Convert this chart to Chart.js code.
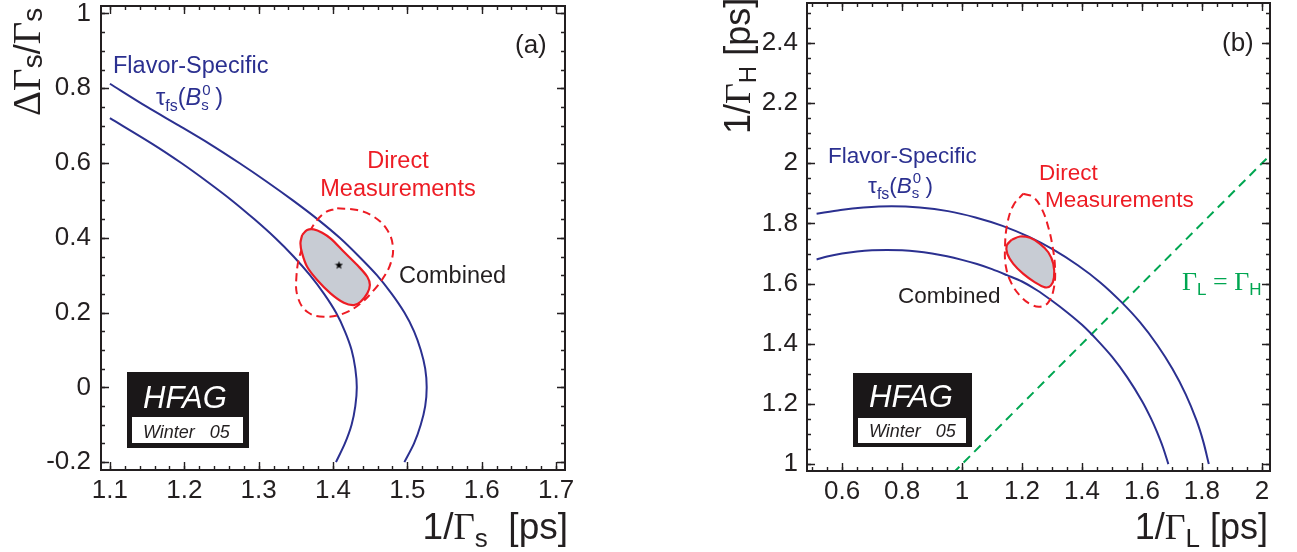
<!DOCTYPE html>
<html><head><meta charset="utf-8">
<script src="https://cdn.jsdelivr.net/npm/chart.js@4.4.1/dist/chart.umd.min.js"></script>
<style>
html,body{margin:0;padding:0;background:#fff;width:1297px;height:552px;overflow:hidden}
canvas{position:absolute;top:0}
#ca{left:0}
#cb{left:648px}
</style></head><body>
<canvas id="ca" width="648" height="552"></canvas>
<canvas id="cb" width="649" height="552"></canvas>
<script>
// ================= DATA =================
// Panel (a): DeltaGamma_s/Gamma_s vs 1/Gamma_s
const aXTicks = [1.1, 1.2, 1.3, 1.4, 1.5, 1.6, 1.7];
const aXTickLabels = ['1.1','1.2','1.3','1.4','1.5','1.6','1.7'];
const aYTicks = [-0.2, 0, 0.2, 0.4, 0.6, 0.8, 1];
const aYTickLabels = ['-0.2','0','0.2','0.4','0.6','0.8','1'];

const aOuterX = [1.100,1.150,1.193,1.235,1.274,1.311,1.346,1.379,1.409,1.435,1.459,1.479,1.496,1.509,1.518,1.524,1.526,1.524,1.518,1.509,1.496];
const aOuterY = [0.812,0.750,0.700,0.650,0.600,0.550,0.500,0.450,0.400,0.350,0.300,0.250,0.200,0.150,0.100,0.050,0.000,-0.050,-0.100,-0.150,-0.200];
const aInnerX = [1.100,1.158,1.196,1.231,1.264,1.294,1.322,1.347,1.369,1.388,1.404,1.416,1.425,1.430,1.432,1.430,1.425,1.416,1.404];
const aInnerY = [0.720,0.650,0.600,0.550,0.500,0.450,0.400,0.350,0.300,0.250,0.200,0.150,0.100,0.050,0.000,-0.050,-0.100,-0.150,-0.200];
const aCombX = [1.3585,1.3652,1.3741,1.3854,1.3966,1.4146,1.4326,1.4461,1.4496,1.4461,1.4371,1.4281,1.4146,1.3966,1.3787,1.3652,1.3585,1.3562,1.3585];
const aCombY = [0.4074,0.4207,0.4226,0.4137,0.3985,0.3627,0.3271,0.2958,0.2736,0.2514,0.2289,0.2201,0.2262,0.2514,0.2870,0.3225,0.3584,0.3852,0.4074];
const aDirX = [1.4056,1.4326,1.4550,1.4730,1.4806,1.4775,1.4685,1.4550,1.4371,1.4146,1.3876,1.3652,1.3525,1.3508,1.3562,1.3697,1.3876,1.4056];
const aDirY = [0.4788,0.4742,0.4563,0.4207,0.3760,0.3316,0.2958,0.2602,0.2246,0.1979,0.1888,0.2022,0.2423,0.2958,0.3584,0.4207,0.4654,0.4788];
const aBestX = [1.408];
const aBestY = [0.327];

// Panel (b): 1/Gamma_H vs 1/Gamma_L
const bXTicks = [0.6, 0.8, 1.0, 1.2, 1.4, 1.6, 1.8, 2.0];
const bXTickLabels = ['0.6','0.8','1','1.2','1.4','1.6','1.8','2'];
const bYTicks = [1.0, 1.2, 1.4, 1.6, 1.8, 2.0, 2.2, 2.4];
const bYTickLabels = ['1','1.2','1.4','1.6','1.8','2','2.2','2.4'];

const bOuterX = [0.515,0.595,0.671,0.765,0.859,0.953,1.045,1.135,1.222,1.306,1.386,1.461,1.530,1.594,1.651,1.702,1.746,1.782,1.805,1.823];
const bOuterY = [1.832,1.845,1.853,1.857,1.853,1.841,1.820,1.792,1.756,1.712,1.661,1.604,1.540,1.471,1.396,1.316,1.232,1.145,1.073,1.000];
const bInnerX = [0.515,0.55,0.60,0.65,0.70,0.75,0.80,0.85,0.90,0.95,1.00,1.05,1.10,1.15,1.20,1.25,1.30,1.35,1.40,1.45,1.50,1.55,1.60,1.63,1.65,1.67,1.688];
const bInnerY = [1.680,1.690,1.700,1.707,1.711,1.712,1.711,1.707,1.700,1.691,1.679,1.665,1.648,1.628,1.607,1.578,1.543,1.505,1.463,1.413,1.357,1.290,1.210,1.152,1.107,1.056,1.000];
const bCombX = [1.1657,1.1933,1.2267,1.2600,1.2877,1.3043,1.3067,1.2957,1.2767,1.2433,1.2043,1.1710,1.1510,1.1490,1.1657];
const bCombY = [1.7457,1.7567,1.7523,1.7323,1.7043,1.6657,1.6210,1.5933,1.5877,1.6043,1.6323,1.6657,1.6990,1.7267,1.7457];
const bDirX = [1.2043,1.2377,1.2657,1.2877,1.3023,1.3100,1.3067,1.2877,1.2600,1.2267,1.1933,1.1657,1.1467,1.1433,1.1510,1.1710,1.2043];
const bDirY = [1.8990,1.8877,1.8490,1.7877,1.7210,1.6543,1.5877,1.5377,1.5233,1.5323,1.5600,1.5990,1.6543,1.7210,1.7990,1.8600,1.8990];
const bEqualX = [0.97, 2.03];
const bEqualY = [0.97, 2.03];

// ================= STYLE / HELPERS =================
const SANS = "'Liberation Sans', Arial, Helvetica, sans-serif";
const SERIF = "'Liberation Serif', 'Times New Roman', serif";
const INK = '#231f20';
const BLUE = '#2b3090';
const RED = '#ed1c24';
const GREEN = '#00a651';
const GREYFILL = '#c8ccd4';
Chart.defaults.font.family = SANS;
Chart.defaults.color = INK;

const pts = (xs, ys) => xs.map((v, i) => ({x: v, y: ys[i]}));

function starImage() {
  const c = document.createElement('canvas');
  c.width = 9; c.height = 9;
  const g = c.getContext('2d');
  g.fillStyle = '#000';
  g.beginPath();
  for (let i = 0; i < 10; i++) {
    const r = i % 2 ? 1.8 : 4.3;
    const a = -Math.PI / 2 + i * Math.PI / 5;
    const px = 4.5 + r * Math.cos(a), py = 4.7 + r * Math.sin(a);
    i ? g.lineTo(px, py) : g.moveTo(px, py);
  }
  g.closePath(); g.fill();
  return c;
}

function drawRich(ctx, x, y, parts, align, rot) {
  ctx.save();
  ctx.textBaseline = 'alphabetic';
  ctx.textAlign = 'left';
  let w = 0;
  for (const p of parts) { ctx.font = p.f; if (!p.stack) w += ctx.measureText(p.t).width; }
  ctx.translate(x, y);
  if (rot) ctx.rotate(-Math.PI / 2);
  let cx = align === 'center' ? -w / 2 : align === 'right' ? -w : 0;
  for (const p of parts) {
    ctx.font = p.f; ctx.fillStyle = p.c || INK;
    ctx.fillText(p.t, cx + (p.dx || 0), p.dy || 0);
    if (!p.stack) cx += ctx.measureText(p.t).width;
  }
  ctx.restore();
}

function minorVals(min, max, step) {
  const out = [];
  for (let k = Math.ceil(min / step - 1e-9); k * step <= max + 1e-9; k++) out.push(+(k * step).toFixed(6));
  return out;
}

const framePlugin = {
  id: 'frame',
  afterDatasetsDraw(chart, args, o) {
    const {ctx, chartArea: a, scales: {x, y}} = chart;
    ctx.save();
    ctx.strokeStyle = INK;
    ctx.lineWidth = 1.4;
    const xt = (v, len) => { const p = Math.round(x.getPixelForValue(v)) + 0.5;
      ctx.beginPath(); ctx.moveTo(p, a.bottom); ctx.lineTo(p, a.bottom - len);
      ctx.moveTo(p, a.top); ctx.lineTo(p, a.top + len); ctx.stroke(); };
    const yt = (v, len) => { const p = Math.round(y.getPixelForValue(v)) + 0.5;
      ctx.beginPath(); ctx.moveTo(a.left, p); ctx.lineTo(a.left + len, p);
      ctx.moveTo(a.right, p); ctx.lineTo(a.right - len, p); ctx.stroke(); };
    minorVals(x.min, x.max, o.xMinor).forEach(v => xt(v, 4));
    minorVals(y.min, y.max, o.yMinor).forEach(v => yt(v, 4));
    o.xMajor.forEach(v => xt(v, 8));
    o.yMajor.forEach(v => yt(v, 8));
    ctx.lineWidth = 2;
    ctx.strokeRect(a.left, a.top, a.right - a.left, a.bottom - a.top);
    ctx.restore();
  },
  afterDraw(chart, args, o) {
    const ctx = chart.ctx;
    const off = o.offset;
    const b = o.logo;
    ctx.save();
    ctx.fillStyle = '#1a1718';
    ctx.fillRect(b.x - off, b.y, b.w, b.h);
    ctx.fillStyle = '#fff';
    ctx.fillRect(b.ix - off, b.iy, b.iw, b.ih);
    ctx.restore();
    drawRich(ctx, b.tx - off, b.ty, [{t: 'HFAG', f: 'italic 31px ' + SANS, c: '#fff'}]);
    drawRich(ctx, b.wx - off, b.wy, [{t: 'Winter   05', f: 'italic 18px ' + SANS, c: INK}]);
    for (const t of o.texts) drawRich(ctx, t.x - off, t.y, t.parts, t.align, t.rot);
  }
};

const noPad = sc => { sc.paddingTop = 0; sc.paddingBottom = 0; sc.paddingLeft = 0; sc.paddingRight = 0; };

function config(datasets, s) {
  return {
    type: 'scatter',
    data: {datasets},
    options: {
      responsive: false, animation: false,
      layout: {padding: {left: 0, top: s.padTop, right: s.padRight, bottom: 0}},
      plugins: {legend: {display: false}, tooltip: {enabled: false}, frame: s.frame},
      scales: {
        x: {
          type: 'linear', min: s.xmin, max: s.xmax,
          border: {display: false},
          grid: {display: false, drawTicks: false},
          afterBuildTicks: sc => { sc.ticks = s.xTicks.map(v => ({value: v})); },
          afterFit: sc => { sc.height = s.xAxisH; noPad(sc); },
          ticks: {font: {size: 26}, color: INK, padding: 5, maxRotation: 0, autoSkip: false,
                  callback: (v, i) => s.xLabels[i]}
        },
        y: {
          type: 'linear', min: s.ymin, max: s.ymax,
          border: {display: false},
          grid: {display: false, drawTicks: false},
          afterBuildTicks: sc => { sc.ticks = s.yTicks.map(v => ({value: v})); },
          afterFit: sc => { sc.width = s.yAxisW; noPad(sc); },
          ticks: {font: {size: 26}, color: INK, padding: s.yPad, autoSkip: false,
                  callback: (v, i) => s.yLabels[i]}
        }
      }
    },
    plugins: [framePlugin]
  };
}

const line = (data, color, extra) => Object.assign({
  data, showLine: true, borderColor: color, borderWidth: 2, pointRadius: 0,
  tension: 0.3, fill: false
}, extra || {});

const fa = '23.5px ' + SANS;
const fb = '22.5px ' + SANS;
const tauParts = (c, sz) => [
  {t: 'τ', f: sz + 'px ' + SANS, c},
  {t: 'fs', f: '16px ' + SANS, c, dy: 6},
  {t: '(', f: sz + 'px ' + SANS, c},
  {t: 'B', f: 'italic ' + sz + 'px ' + SANS, c},
  {t: '0', f: '15px ' + SANS, c, dy: -10, stack: true, dx: 1},
  {t: 's', f: '15px ' + SANS, c, dy: 5},
  {t: ' )', f: sz + 'px ' + SANS, c}
];

// ---------- Panel (a) ----------
new Chart(document.getElementById('ca'), config([
  line(pts(aBestX, aBestY), '#000', {showLine: false, pointRadius: 4, pointStyle: starImage()}),
  line(pts(aCombX, aCombY), RED, {fill: 'shape', backgroundColor: GREYFILL, borderWidth: 2.2, tension: 0.35}),
  line(pts(aDirX, aDirY), RED, {borderDash: [8, 5], tension: 0.4}),
  line(pts(aOuterX, aOuterY), BLUE),
  line(pts(aInnerX, aInnerY), BLUE)
], {
  xmin: 1.088, xmax: 1.712, ymin: -0.221, ymax: 1.02,
  xTicks: aXTicks, xLabels: aXTickLabels, yTicks: aYTicks, yLabels: aYTickLabels,
  padTop: 6, padRight: 83, xAxisH: 82, yAxisW: 101, yPad: 10,
  frame: {
    xMinor: 0.02, yMinor: 0.05, xMajor: aXTicks, yMajor: aYTicks, offset: 0,
    logo: {x: 127, y: 372, w: 122, h: 76, ix: 132, iy: 417, iw: 111, ih: 26, tx: 143, ty: 408, wx: 143, wy: 438},
    texts: [
      {x: 515, y: 53, parts: [{t: '(a)', f: '26px ' + SANS}]},
      {x: 113, y: 73, parts: [{t: 'Flavor-Specific', f: fa, c: BLUE}]},
      {x: 156, y: 105, parts: tauParts(BLUE, 23.5)},
      {x: 398, y: 168, align: 'center', parts: [{t: 'Direct', f: fa, c: RED}]},
      {x: 398, y: 196, align: 'center', parts: [{t: 'Measurements', f: fa, c: RED}]},
      {x: 399, y: 283, parts: [{t: 'Combined', f: fa}]},
      {x: 568, y: 539, align: 'right', parts: [
        {t: '1/', f: '37px ' + SANS}, {t: 'Γ', f: '37px ' + SERIF}, {t: 's', f: '26px ' + SANS, dy: 8},
        {t: '  [ps]', f: '37px ' + SANS}]},
      {x: 40, y: 116, rot: true, parts: [
        {t: 'ΔΓ', f: '39px ' + SERIF}, {t: 's', f: '28px ' + SANS, dy: 2},
        {t: '/', f: '36px ' + SANS}, {t: 'Γ', f: '39px ' + SERIF}, {t: 's', f: '28px ' + SANS, dy: 2}]}
    ]
  }
}));

// ---------- Panel (b) ----------
new Chart(document.getElementById('cb'), config([
  line(pts(bCombX, bCombY), RED, {fill: 'shape', backgroundColor: GREYFILL, borderWidth: 2.2, tension: 0.35}),
  line(pts(bDirX, bDirY), RED, {borderDash: [8, 5], tension: 0.4}),
  line(pts(bOuterX, bOuterY), BLUE),
  line(pts(bInnerX, bInnerY), BLUE),
  line(pts(bEqualX, bEqualY), GREEN, {borderDash: [9, 6], tension: 0})
], {
  xmin: 0.483, xmax: 2.027, ymin: 0.977, ymax: 2.533,
  xTicks: bXTicks, xLabels: bXTickLabels, yTicks: bYTicks, yLabels: bYTickLabels,
  padTop: 3, padRight: 27, xAxisH: 81, yAxisW: 159, yPad: 9,
  frame: {
    xMinor: 0.05, yMinor: 0.05, xMajor: bXTicks, yMajor: bYTicks, offset: 648,
    logo: {x: 853, y: 373, w: 119, h: 74, ix: 858, iy: 418, iw: 108, ih: 25, tx: 869, ty: 407, wx: 869, wy: 437},
    texts: [
      {x: 1222, y: 51, parts: [{t: '(b)', f: '26px ' + SANS}]},
      {x: 828, y: 163, parts: [{t: 'Flavor-Specific', f: fb, c: BLUE}]},
      {x: 868, y: 193, parts: tauParts(BLUE, 22.5)},
      {x: 1039, y: 180, parts: [{t: 'Direct', f: fb, c: RED}]},
      {x: 1045, y: 207, parts: [{t: 'Measurements', f: fb, c: RED}]},
      {x: 898, y: 303, parts: [{t: 'Combined', f: fb}]},
      {x: 1182, y: 290, parts: [
        {t: 'Γ', f: '26px ' + SERIF, c: GREEN}, {t: 'L', f: '17px ' + SANS, c: GREEN, dy: 5},
        {t: ' = ', f: '26px ' + SERIF, c: GREEN},
        {t: 'Γ', f: '26px ' + SERIF, c: GREEN}, {t: 'H', f: '17px ' + SANS, c: GREEN, dy: 5}]},
      {x: 1268, y: 539, align: 'right', parts: [
        {t: '1/', f: '36px ' + SANS}, {t: 'Γ', f: '36px ' + SERIF}, {t: 'L', f: '26px ' + SANS, dy: 8},
        {t: ' [ps]', f: '36px ' + SANS}]},
      {x: 750, y: 134, rot: true, parts: [
        {t: '1/', f: '36px ' + SANS}, {t: 'Γ', f: '36px ' + SERIF}, {t: 'H', f: '24px ' + SANS, dy: 6},
        {t: ' [ps]', f: '36px ' + SANS}]}
    ]
  }
}));
</script>
</body></html>
